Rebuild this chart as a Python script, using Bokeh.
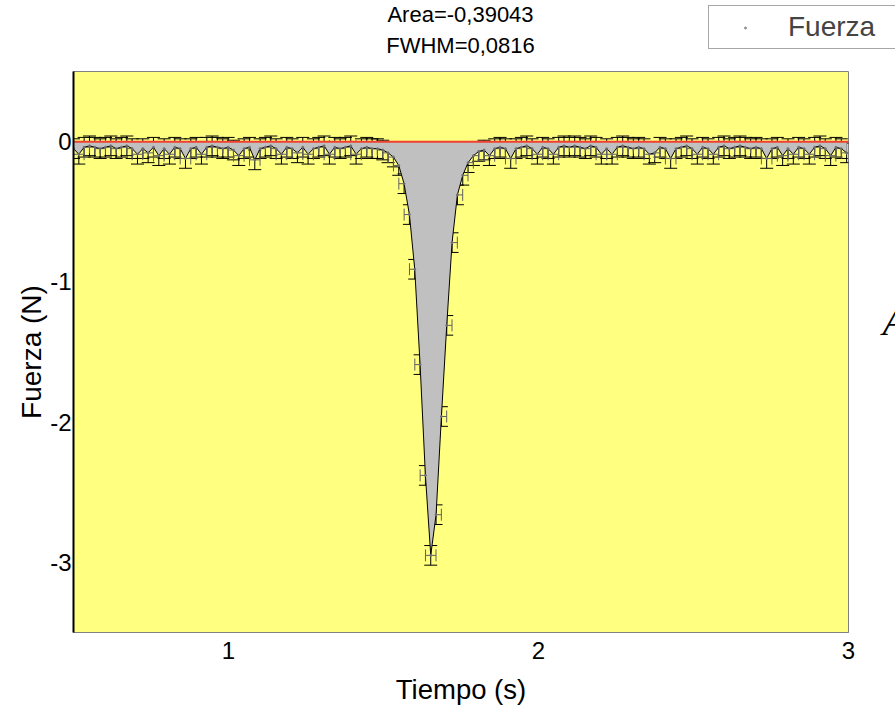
import numpy as np
from bokeh.plotting import figure
from bokeh.layouts import column, row
from bokeh.models import (ColumnDataSource, Whisker, TeeHead, Span, Label,
                          Legend, LegendItem, FixedTicker)
from bokeh.embed import file_html
from bokeh.resources import INLINE

# ---- data ----
t0 = 0.5          # first sample time (s)
dt = 0.0172       # sampling step (s)
fuerza = [
    -0.05, -0.09, -0.04, -0.03, -0.04, -0.05, -0.04, -0.03, -0.05, -0.04,
    -0.03, -0.05, -0.09, -0.05, -0.08, -0.04, -0.10, -0.05, -0.09, -0.04,
    -0.05, -0.12, -0.05, -0.04, -0.09, -0.04, -0.03, -0.04, -0.05, -0.04,
    -0.06, -0.10, -0.05, -0.04, -0.13, -0.05, -0.04, -0.03, -0.05, -0.09,
    -0.04, -0.05, -0.08, -0.04, -0.09, -0.05, -0.04, -0.03, -0.09, -0.04,
    -0.05, -0.04, -0.03, -0.09, -0.05, -0.04, -0.05, -0.05, -0.06, -0.08,
    -0.11, -0.17, -0.30, -0.52, -0.91, -1.59, -2.38, -2.95, -2.66, -1.96,
    -1.31, -0.72, -0.38, -0.24, -0.15, -0.10, -0.07, -0.06, -0.10, -0.05,
    -0.04, -0.05, -0.12, -0.05, -0.04, -0.03, -0.05, -0.09, -0.04, -0.05,
    -0.09, -0.04, -0.03, -0.04, -0.03, -0.04, -0.05, -0.03, -0.04, -0.09,
    -0.05, -0.09, -0.04, -0.03, -0.04, -0.05, -0.04, -0.05, -0.09, -0.08,
    -0.04, -0.05, -0.12, -0.05, -0.04, -0.03, -0.05, -0.09, -0.04, -0.05,
    -0.09, -0.04, -0.03, -0.05, -0.04, -0.03, -0.04, -0.05, -0.04, -0.05,
    -0.12, -0.05, -0.04, -0.10, -0.05, -0.09, -0.04, -0.05, -0.09, -0.04,
    -0.03, -0.05, -0.10, -0.04, -0.05, -0.08,
]
x_err = 0.017     # s
y_err = 0.07      # N
x_ticks = [1, 2, 3]
y_ticks = [-3, -2, -1, 0]
y_tick_text = {-3: "-3", -2: "-2", -1: "-1", 0: "0"}
title_lines = ["Area=-0,39043", "FWHM=0,0816"]
series_name = "Fuerza"

tiempo = t0 + dt * np.arange(len(fuerza))
y = np.array(fuerza)
src = ColumnDataSource(dict(
    t=tiempo, y=y, zero=np.zeros_like(y),
    ylo=y - y_err, yhi=y + y_err,
    xlo=tiempo - x_err, xhi=tiempo + x_err,
))

FONT = "Liberation Sans"
W, TOP_H, MAIN_H, SIDE_W = 895, 71, 640, 25

# ---------------- main chart ----------------
p = figure(width=W - SIDE_W, height=MAIN_H, output_backend="svg",
           toolbar_location=None,
           x_range=(0.5, 3.0), y_range=(-3.5, 0.5),
           min_border_left=73, min_border_right=W - SIDE_W - 848,
           min_border_top=0, min_border_bottom=MAIN_H - 561)
p.background_fill_color = "#ffff80"
p.border_fill_color = "white"
p.outline_line_color = "#808080"
p.outline_line_width = 1
p.xgrid.visible = False
p.ygrid.visible = False

p.varea(x="t", y1="y", y2="zero", source=src, fill_color="#c0c0c0")
p.add_layout(Span(location=0, dimension="width", line_color="#f04030",
                  line_width=2, level="glyph"))
p.line(x="t", y="y", source=src, line_color="black", line_width=1)
p.scatter(x="t", y="y", source=src, size=2, color="#707070")

p.add_layout(Whisker(source=src, base="t", lower="ylo", upper="yhi",
                     dimension="height", line_color="black", line_width=1,
                     upper_head=TeeHead(size=13, line_color="black", line_width=1),
                     lower_head=TeeHead(size=13, line_color="black", line_width=1)))
p.add_layout(Whisker(source=src, base="y", lower="xlo", upper="xhi",
                     dimension="width", line_color="#606060", line_width=1,
                     upper_head=TeeHead(size=12, line_color="#606060", line_width=1),
                     lower_head=TeeHead(size=12, line_color="#606060", line_width=1)))

for ax in (p.xaxis[0], p.yaxis[0]):
    ax.major_tick_out = 0
    ax.major_tick_in = 0
    ax.minor_tick_out = 0
    ax.minor_tick_in = 0
    ax.major_label_text_font = FONT
    ax.major_label_text_font_size = "24px"
    ax.major_label_text_color = "black"
    ax.axis_label_text_font = FONT
    ax.axis_label_text_font_style = "normal"
    ax.axis_label_text_color = "black"

p.xaxis.axis_label_text_font_size = "27.5px"
p.yaxis.axis_label_text_font_size = "28px"
p.xaxis.ticker = FixedTicker(ticks=x_ticks)
p.yaxis.ticker = FixedTicker(ticks=y_ticks)
p.yaxis.major_label_overrides = y_tick_text
p.xaxis.axis_label = "Tiempo (s)"
p.yaxis.axis_label = "Fuerza (N)"
p.xaxis.axis_line_color = "#808080"
p.yaxis.axis_line_color = "black"
p.yaxis.axis_line_width = 2
p.xaxis.major_label_standoff = 9
p.yaxis.major_label_standoff = 2
p.xaxis.axis_label_standoff = 12
p.yaxis.axis_label_standoff = 0

# ---------------- top strip: title + legend ----------------
top = figure(width=W, height=TOP_H, output_backend="svg", toolbar_location=None,
             x_range=(0, 1), y_range=(0, 1), x_axis_type=None, y_axis_type=None,
             min_border=0)
top.outline_line_color = None
top.background_fill_color = "white"
top.border_fill_color = "white"
top.xgrid.visible = False
top.ygrid.visible = False
for txt, ys in zip(title_lines, [TOP_H - 14, TOP_H - 45]):
    top.add_layout(Label(x=460, y=ys, x_units="screen", y_units="screen",
                         text=txt, text_font=FONT, text_font_size="22px",
                         text_align="center", text_baseline="middle",
                         text_color="black"))
# same series, drawn here only to supply the legend's marker (out of view)
legend_glyph = top.scatter(x="t", y="y", source=src, size=2, color="#909090")
legend = Legend(items=[LegendItem(label=series_name, renderers=[legend_glyph])],
                location=(708, TOP_H - 49), padding=5, margin=0,
                label_text_font=FONT, label_text_font_size="28px",
                glyph_width=62, glyph_height=5, label_standoff=12,
                label_width=110,
                border_line_color="#505050", border_line_width=1,
                background_fill_color="white", background_fill_alpha=1)
top.add_layout(legend)

# ---------------- right strip: cut-off letter ----------------
side = figure(width=SIDE_W, height=MAIN_H, output_backend="svg",
              toolbar_location=None, x_range=(0, 1), y_range=(0, 1),
              x_axis_type=None, y_axis_type=None, min_border=0)
side.outline_line_color = None
side.background_fill_color = "white"
side.border_fill_color = "white"
side.xgrid.visible = False
side.ygrid.visible = False
side.add_layout(Label(x=12, y=312,
                      x_units="screen", y_units="screen",
                      text="A", text_font="Liberation Serif",
                      text_font_style="italic", text_font_size="41px",
                      text_color="black", text_baseline="alphabetic"))

layout = column(top, row(p, side, spacing=0), spacing=0)
open("out.html", "w").write(file_html(layout, INLINE))
